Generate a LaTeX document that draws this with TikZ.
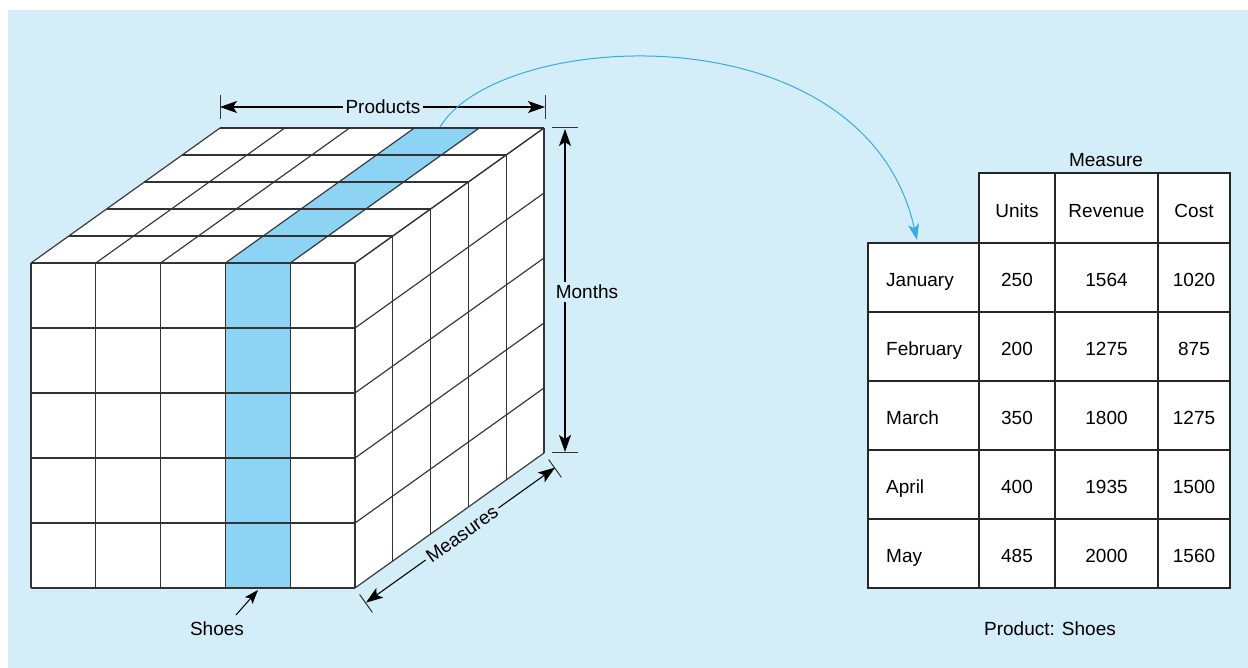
\documentclass[tikz,border=0pt]{standalone}
\usepackage{fontspec}
\setmainfont{Liberation Sans}
\usetikzlibrary{arrows.meta,calc}
\definecolor{bgblue}{HTML}{D3EDF9}
\definecolor{hlblue}{HTML}{8DD3F4}
\definecolor{curveblue}{HTML}{3AAAE0}
\definecolor{edgegray}{HTML}{333333}
\begin{document}
\begin{tikzpicture}[x=1pt,y=-1pt,
  font=\fontsize{19}{22}\selectfont,
  cubeline/.style={draw=edgegray,line width=1.15pt,line join=round},
  tabline/.style={draw=black!85,line width=1.3pt},
  dimarrow/.style={line width=1.1pt,{Stealth[length=17pt,width=12pt,inset=4pt]}-{Stealth[length=17pt,width=12pt,inset=4pt]}},
  tickline/.style={line width=1pt,draw=black!80},
  lbl/.style={fill=bgblue,inner sep=3pt},
  txt/.style={inner sep=0pt,anchor=base}]
\useasboundingbox (0,0) rectangle (1248,668);
\fill[bgblue] (8,10) rectangle (1248,668);

% ---------- cube faces ----------
\fill[white] (31,263) rectangle (355,588);
\fill[hlblue] (226.2,263) rectangle (291,588);
\fill[white] (31,263) -- (355,263) -- (544,128) -- (220,128) -- cycle;
\fill[hlblue] (226.2,263) -- (291,263) -- (480,128) -- (415.2,128) -- cycle;
\fill[white] (355,263) -- (544,128) -- (544,453) -- (355,588) -- cycle;

% front grid
\foreach \i in {0,...,5} {\draw[cubeline] ({31+64.8*\i},263) -- ({31+64.8*\i},588);}
\foreach \j in {0,...,5} {\draw[cubeline] (31,{263+65*\j}) -- (355,{263+65*\j});}
% top grid
\foreach \k in {1,...,5} {\draw[cubeline] ({31+37.8*\k},{263-27*\k}) -- ({355+37.8*\k},{263-27*\k});}
\foreach \i in {0,...,5} {\draw[cubeline] ({31+64.8*\i},263) -- ({220+64.8*\i},128);}
% right grid
\foreach \k in {1,...,5} {\draw[cubeline] ({355+37.8*\k},{263-27*\k}) -- ({355+37.8*\k},{588-27*\k});}
\foreach \j in {0,...,5} {\draw[cubeline] (355,{263+65*\j}) -- (544,{128+65*\j});}

% ---------- Products ----------
\coordinate (prodL) at (220,107);
\coordinate (prodR) at (545,107);
\draw[tickline] (220,95) -- (220,119);
\draw[tickline] (545,95) -- (545,119);
\draw[dimarrow] (prodL) -- (prodR);
\node[lbl,anchor=base] (products) at (383,114) {Products};

% ---------- Months ----------
\coordinate (monT) at (565,129);
\coordinate (monB) at (565,452);
\draw[tickline] (552,128) -- (578,128);
\draw[tickline] (552,452) -- (578,452);
\draw[dimarrow] (monT) -- (monB);
\node[lbl,anchor=base] (months) at (587,299) {Months};

% ---------- Measures ----------
\coordinate (meaA) at (366,602.6);
\coordinate (meaB) at (555,467.6);
\draw[tickline] (359.6,594.5) -- (372.4,612.4);
\draw[tickline] (548.6,459.5) -- (561.4,477.4);
\draw[dimarrow] (meaA) -- (meaB);
\node[lbl,rotate=35.5] (measures) at (462,534) {Measures};

% ---------- Shoes ----------
\node[txt] (shoes) at (217,635) {Shoes};
\coordinate (shoesTail) at (236,615);
\coordinate (shoesTip) at (258,590);
\draw[line width=1pt,-{Stealth[length=14pt,width=10pt,inset=3pt]}] (shoesTail) -- (shoesTip);

% ---------- curved arrow ----------
\coordinate (curS) at (440,127);
\coordinate (curE) at (917,240);
\draw[curveblue,line width=1pt,-{Stealth[length=16pt,width=11pt,inset=4pt]}] (curS) .. controls (500,28) and (865,8) .. (curE);

% ---------- table ----------
\fill[white] (979,173) rectangle (1230,243);
\fill[white] (868,243) rectangle (1230,588);
\draw[tabline] (979,173) rectangle (1230,243);
\draw[tabline] (868,243) rectangle (1230,588);
\foreach \x in {979,1055,1158} {\draw[tabline] (\x,173) -- (\x,588);}
\foreach \y in {312,381,450,519} {\draw[tabline] (868,\y) -- (1230,\y);}

\node[txt] (measureH) at (1106,167) {Measure};
\node[txt] (hUnits) at (1017,218) {Units};
\node[txt] (hRevenue) at (1106.5,218) {Revenue};
\node[txt] (hCost) at (1194,218) {Cost};

\foreach \n/\m/\u/\r/\c/\yy in {jan/January/250/1564/1020/286.5, feb/February/200/1275/875/355.5, mar/March/350/1800/1275/424.5, apr/April/400/1935/1500/493.5, may/May/485/2000/1560/562.5} {
  \node[txt,anchor=base west] (m\n) at (886,\yy) {\m};
  \node[txt] (u\n) at (1017,\yy) {\u};
  \node[txt] (r\n) at (1106.5,\yy) {\r};
  \node[txt] (c\n) at (1194,\yy) {\c};
}

\node[txt] (caption) at (1050,635) {Product: Shoes};
\end{tikzpicture}
\end{document}
